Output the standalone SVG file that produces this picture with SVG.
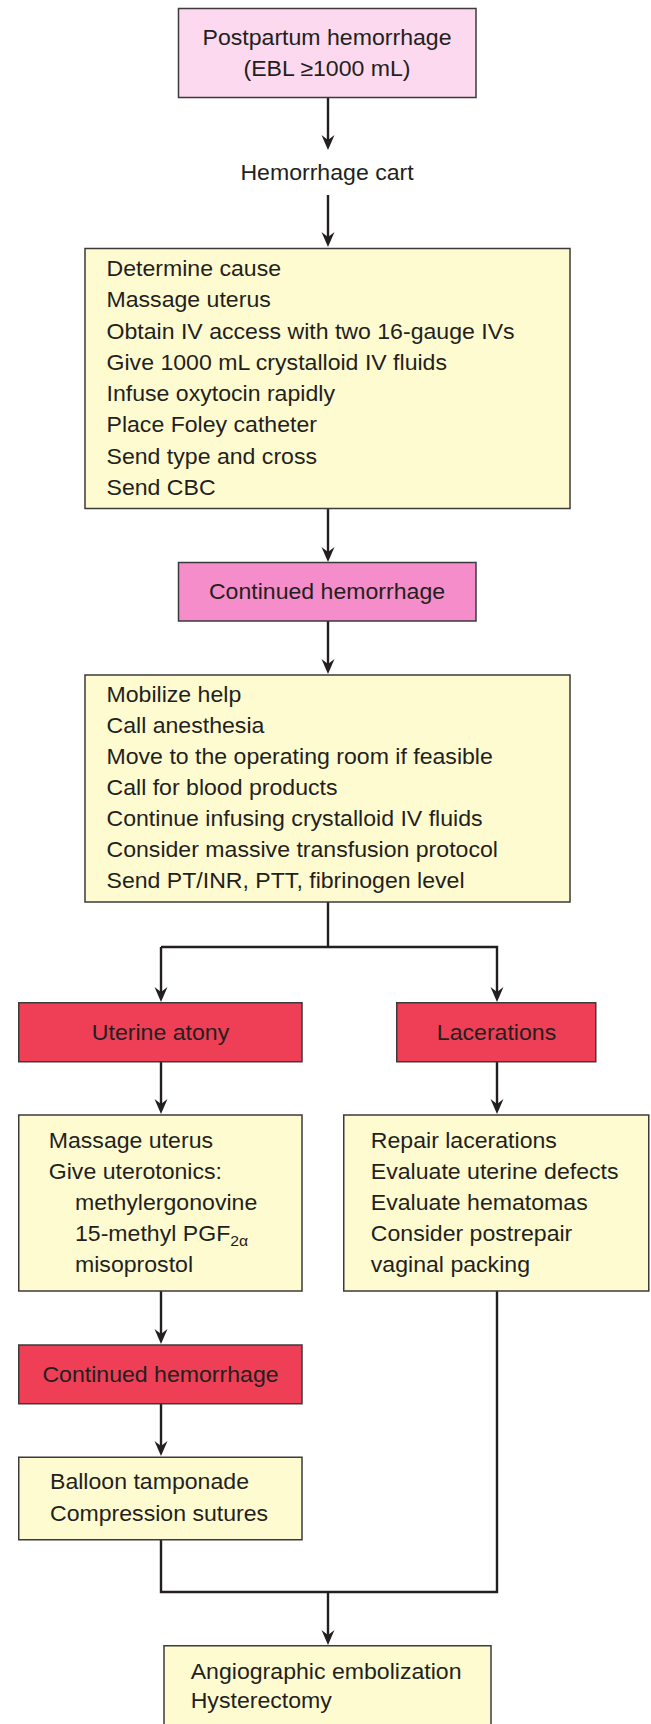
<svg xmlns="http://www.w3.org/2000/svg" width="651" height="1724" viewBox="0 0 651 1724">
  <style>
    .box { stroke: #3c3a3a; stroke-width: 1.5; }
    .pale { fill: #fcd9ee; }
    .pink { fill: #f48dc9; }
    .red { fill: #ee3f56; }
    .note { fill: #fffbd0; }
    .wire { fill: none; stroke: #231f20; stroke-width: 2.4; }
    text { font-family: "Liberation Sans", Arial, Helvetica, sans-serif; font-size: 22px; fill: #231f20; }
    .t { transform: scale(1.05, 1); }
    .mid { text-anchor: middle; }
    .sub { font-size: 15px; }
  </style>
  <defs>
    <marker id="ah" markerUnits="userSpaceOnUse" markerWidth="20" markerHeight="16" viewBox="-16 -8 20 16" refX="-8" refY="0" orient="auto">
      <path d="M0,0 L-15,-6.5 L-10,0 L-15,6.5 Z" fill="#231f20"/>
    </marker>
  </defs>

  <!-- connectors -->
  <g id="connectors" class="wire">
    <line x1="328" y1="98" x2="328" y2="142" marker-end="url(#ah)"/>
    <line x1="328" y1="195" x2="328" y2="239" marker-end="url(#ah)"/>
    <line x1="328" y1="509" x2="328" y2="554" marker-end="url(#ah)"/>
    <line x1="328" y1="621" x2="328" y2="666" marker-end="url(#ah)"/>
    <polyline points="328,902 328,947"/>
    <polyline points="161,947 497,947 497,994" marker-end="url(#ah)"/>
    <line x1="161" y1="947" x2="161" y2="994" marker-end="url(#ah)"/>
    <line x1="161" y1="1062" x2="161" y2="1106" marker-end="url(#ah)"/>
    <line x1="497" y1="1062" x2="497" y2="1106" marker-end="url(#ah)"/>
    <line x1="161" y1="1291" x2="161" y2="1336" marker-end="url(#ah)"/>
    <line x1="161" y1="1404" x2="161" y2="1448" marker-end="url(#ah)"/>
    <polyline points="161,1540 161,1592 497,1592 497,1291"/>
    <line x1="328" y1="1592" x2="328" y2="1637" marker-end="url(#ah)"/>
  </g>

  <!-- Postpartum hemorrhage -->
  <g id="pph">
    <rect class="box pale" x="178.5" y="8.5" width="297.5" height="89"/>
    <g transform="translate(327 45)"><text class="t mid">Postpartum hemorrhage</text></g>
    <g transform="translate(327 76)"><text class="t mid">(EBL ≥1000 mL)</text></g>
  </g>

  <!-- Hemorrhage cart -->
  <g id="cart">
    <g transform="translate(327 180)"><text class="t mid">Hemorrhage cart</text></g>
  </g>

  <!-- first-line measures -->
  <g id="initial">
    <rect class="box note" x="85" y="248.5" width="485" height="260"/>
    <g transform="translate(106.5 276)">
      <text class="t">
        <tspan x="0" y="0">Determine cause</tspan>
        <tspan x="0" y="31.3">Massage uterus</tspan>
        <tspan x="0" y="62.6">Obtain IV access with two 16-gauge IVs</tspan>
        <tspan x="0" y="93.9">Give 1000 mL crystalloid IV fluids</tspan>
        <tspan x="0" y="125.2">Infuse oxytocin rapidly</tspan>
        <tspan x="0" y="156.5">Place Foley catheter</tspan>
        <tspan x="0" y="187.8">Send type and cross</tspan>
        <tspan x="0" y="219.1">Send CBC</tspan>
      </text>
    </g>
  </g>

  <!-- Continued hemorrhage -->
  <g id="continued">
    <rect class="box pink" x="178.5" y="562.5" width="297.5" height="58.5"/>
    <g transform="translate(327 599)"><text class="t mid">Continued hemorrhage</text></g>
  </g>

  <!-- escalation -->
  <g id="escalate">
    <rect class="box note" x="85" y="675" width="485" height="227"/>
    <g transform="translate(106.5 701.7)">
      <text class="t">
        <tspan x="0" y="0">Mobilize help</tspan>
        <tspan x="0" y="31.05">Call anesthesia</tspan>
        <tspan x="0" y="62.1">Move to the operating room if feasible</tspan>
        <tspan x="0" y="93.15">Call for blood products</tspan>
        <tspan x="0" y="124.2">Continue infusing crystalloid IV fluids</tspan>
        <tspan x="0" y="155.25">Consider massive transfusion protocol</tspan>
        <tspan x="0" y="186.3">Send PT/INR, PTT, fibrinogen level</tspan>
      </text>
    </g>
  </g>

  <!-- Uterine atony -->
  <g id="atony">
    <rect class="box red" x="18.75" y="1002.75" width="283.25" height="59"/>
    <g transform="translate(160.5 1040)"><text class="t mid">Uterine atony</text></g>
  </g>

  <!-- Lacerations -->
  <g id="lacerations">
    <rect class="box red" x="396.75" y="1002.75" width="199" height="59"/>
    <g transform="translate(496.5 1040)"><text class="t mid">Lacerations</text></g>
  </g>

  <!-- atony treatment -->
  <g id="uterotonics">
    <rect class="box note" x="18.75" y="1115" width="283.25" height="176"/>
    <g transform="translate(48.75 1148.3)">
      <text class="t">
        <tspan x="0" y="0">Massage uterus</tspan>
        <tspan x="0" y="31">Give uterotonics:</tspan>
        <tspan x="25" y="62">methylergonovine</tspan>
        <tspan x="25" y="93">15-methyl PGF<tspan class="sub" dy="5">2α</tspan></tspan>
        <tspan x="25" y="124">misoprostol</tspan>
      </text>
    </g>
  </g>

  <!-- laceration repair -->
  <g id="repair">
    <rect class="box note" x="343.75" y="1115" width="305" height="176"/>
    <g transform="translate(370.8 1148.3)">
      <text class="t">
        <tspan x="0" y="0">Repair lacerations</tspan>
        <tspan x="0" y="31">Evaluate uterine defects</tspan>
        <tspan x="0" y="62">Evaluate hematomas</tspan>
        <tspan x="0" y="93">Consider postrepair</tspan>
        <tspan x="0" y="124">vaginal packing</tspan>
      </text>
    </g>
  </g>

  <!-- Continued hemorrhage (atony branch) -->
  <g id="continued2">
    <rect class="box red" x="18.75" y="1345" width="283.25" height="58.75"/>
    <g transform="translate(160.5 1381.7)"><text class="t mid">Continued hemorrhage</text></g>
  </g>

  <!-- tamponade -->
  <g id="tamponade">
    <rect class="box note" x="18.75" y="1457.25" width="283.25" height="82.5"/>
    <g transform="translate(50 1489.3)">
      <text class="t">
        <tspan x="0" y="0">Balloon tamponade</tspan>
        <tspan x="0" y="31.4">Compression sutures</tspan>
      </text>
    </g>
  </g>

  <!-- last resort -->
  <g id="definitive">
    <rect class="box note" x="164" y="1645.75" width="327" height="82"/>
    <g transform="translate(190.7 1679)">
      <text class="t">
        <tspan x="0" y="0">Angiographic embolization</tspan>
        <tspan x="0" y="29.3">Hysterectomy</tspan>
      </text>
    </g>
  </g>
</svg>
